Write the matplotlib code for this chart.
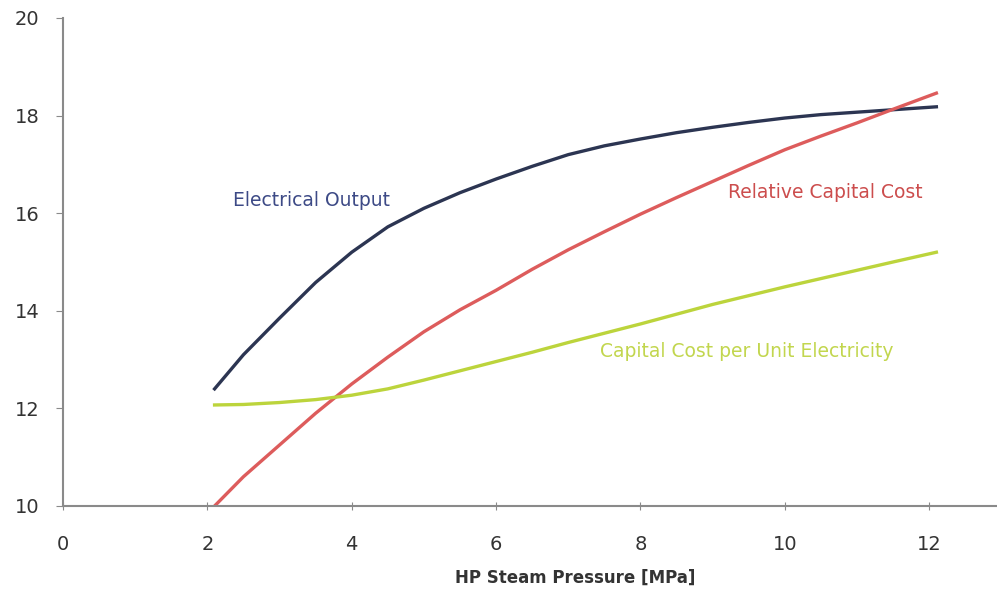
import numpy as np
import matplotlib.pyplot as plt

plt.rcParams['font.family'] = ['DejaVu Sans']

# ===== Data =====
pressure = [2.1, 2.5, 3.0, 3.5, 4.0, 4.5, 5.0, 5.5, 6.0, 6.5, 7.0, 7.5, 8.0, 8.5,
            9.0, 9.5, 10.0, 10.5, 11.0, 11.5, 12.1]
electrical_output = [12.4, 13.1, 13.85, 14.58, 15.2, 15.72, 16.1, 16.42, 16.7, 16.96, 17.2, 17.38,
                     17.52, 17.65, 17.76, 17.86, 17.95, 18.02, 18.07, 18.12, 18.18]
relative_cost = [10.0, 10.6, 11.25, 11.9, 12.5, 13.05, 13.57, 14.02, 14.42, 14.85, 15.25, 15.62,
                 15.98, 16.32, 16.65, 16.98, 17.3, 17.58, 17.85, 18.13, 18.46]
cost_per_unit = [12.07, 12.08, 12.12, 12.18, 12.27, 12.4, 12.58, 12.77, 12.96, 13.15, 13.35, 13.54,
                 13.73, 13.93, 14.13, 14.31, 14.49, 14.66, 14.83, 15.0, 15.2]

x_ticks = [0, 2, 4, 6, 8, 10, 12]
y_ticks = [10, 12, 14, 16, 18, 20]

NAVY = "#2c3552"
RED = "#dd5c5c"
GREEN = "#bcd43c"

fig = plt.figure(figsize=(9.97, 5.92), dpi=100)
ax = fig.add_axes([0.0632, 0.1453, 0.9368, 0.8243])

ax.plot(pressure, electrical_output, color=NAVY, lw=2.4)
ax.plot(pressure, relative_cost, color=RED, lw=2.4)
ax.plot(pressure, cost_per_unit, color=GREEN, lw=2.4)

ax.text(2.35, 16.25, "Electrical Output", color="#3d4a86", fontsize=13.5, va="center")
ax.text(9.22, 16.43, "Relative Capital Cost", color="#cc4d4d", fontsize=13.5, va="center")
ax.text(7.44, 13.16, "Capital Cost per Unit Electricity", color="#c2d64e", fontsize=13.5, va="center")

ax.set_xlim(0, 12.94)
ax.set_ylim(10, 20)
ax.set_xticks(x_ticks)
ax.set_yticks(y_ticks)
fig.text(0.577, 0.024, "HP Steam Pressure [MPa]", fontsize=12, fontweight="bold",
         color="#333333", ha="center", va="center")

for side in ("top", "right"):
    ax.spines[side].set_visible(False)
for side in ("left", "bottom"):
    ax.spines[side].set_color("#8a8a8a")
    ax.spines[side].set_linewidth(1.5)

ax.tick_params(axis="y", direction="out", length=5, color="#8a8a8a", labelsize=14, labelcolor="#333333", pad=12)
ax.tick_params(axis="x", direction="inout", length=6, color="#8a8a8a", labelsize=14, labelcolor="#333333", pad=18)

fig.savefig("out.png", dpi=100)
